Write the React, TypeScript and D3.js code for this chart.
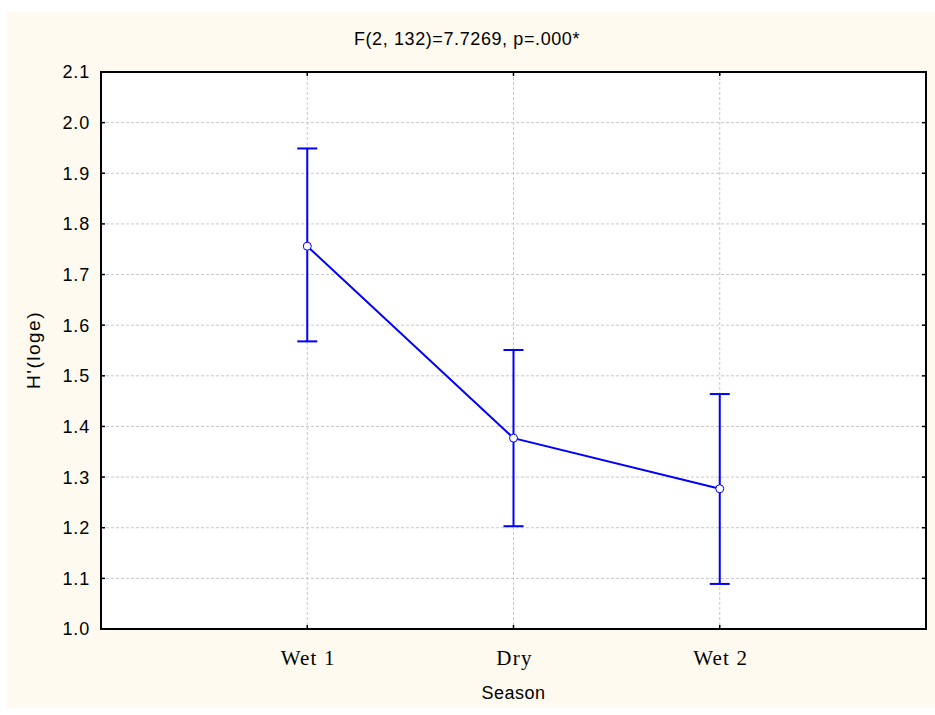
import React from "react";
import * as d3 from "d3";

const categories = ["Wet 1", "Dry", "Wet 2"];
const means = [1.756, 1.377, 1.277];
const upper = [1.949, 1.551, 1.464];
const lower = [1.568, 1.203, 1.089];
const yTicks = [1.0, 1.1, 1.2, 1.3, 1.4, 1.5, 1.6, 1.7, 1.8, 1.9, 2.0, 2.1];
const title = "F(2, 132)=7.7269, p=.000*";
const xLabel = "Season";
const yLabel = "H'(loge)";

export default function App() {
  const W = 935, H = 715;
  const left = 101, right = 926, top = 72, bottom = 629;
  const x = d3.scaleLinear().domain([0, categories.length + 1]).range([left, right]);
  const y = d3.scaleLinear().domain([1.0, 2.1]).range([bottom, top]);
  const line = d3.line<number>().x((_, i) => x(i + 1)).y((d) => y(d));
  const blue = "#0000FF";
  const sans = "Liberation Sans, Arial, sans-serif";
  return (
    <svg width={W} height={H} style={{ position: "absolute", left: 0, top: 0 }}>
      <rect x={7} y={12} width={928} height={696} fill="#FFFAF0" />
      <rect x={left} y={top} width={right - left} height={bottom - top} fill="#FFFFFF" />
      {yTicks.slice(1, -1).map((t) => (
        <line key={"gy" + t} x1={left} x2={right} y1={y(t)} y2={y(t)} stroke="#C8C8C8" strokeWidth={1} strokeDasharray="3,2" />
      ))}
      {categories.map((c, i) => (
        <line key={"gx" + c} x1={x(i + 1)} x2={x(i + 1)} y1={top} y2={bottom} stroke="#C8C8C8" strokeWidth={1} strokeDasharray="3,2" />
      ))}
      {yTicks.map((t) => (
        <g key={"t" + t}>
          <line x1={left} x2={left + 4} y1={y(t)} y2={y(t)} stroke="#000" strokeWidth={1.5} />
          <line x1={right - 4} x2={right} y1={y(t)} y2={y(t)} stroke="#000" strokeWidth={1.5} />
          <text x={90} y={y(t)} dy="0.36em" textAnchor="end" fontFamily={sans} fontSize={18} letterSpacing={0.8} fill="#000">
            {t.toFixed(1)}
          </text>
        </g>
      ))}
      {categories.map((c, i) => (
        <g key={"xl" + c}>
          <line x1={x(i + 1)} x2={x(i + 1)} y1={bottom} y2={bottom - 4} stroke="#000" strokeWidth={1.5} />
          <line x1={x(i + 1)} x2={x(i + 1)} y1={top} y2={top + 4} stroke="#000" strokeWidth={1.5} />
          <text x={x(i + 1) + 1} y={665} textAnchor="middle" fontFamily="Liberation Serif, Times New Roman, serif" fontSize={21} letterSpacing={1.2} fill="#000">
            {c}
          </text>
        </g>
      ))}
      <rect x={left} y={top} width={right - left} height={bottom - top} fill="none" stroke="#000" strokeWidth={2} />
      {categories.map((c, i) => {
        const cx = x(i + 1);
        return (
          <g key={"eb" + c}>
            <line x1={cx} x2={cx} y1={y(lower[i])} y2={y(upper[i])} stroke={blue} strokeWidth={2} />
            <line x1={cx - 10} x2={cx + 10} y1={y(upper[i])} y2={y(upper[i])} stroke={blue} strokeWidth={2} />
            <line x1={cx - 10} x2={cx + 10} y1={y(lower[i])} y2={y(lower[i])} stroke={blue} strokeWidth={2} />
          </g>
        );
      })}
      <path d={line(means) || ""} fill="none" stroke={blue} strokeWidth={2} />
      {means.map((m, i) => (
        <circle key={"pt" + i} cx={x(i + 1)} cy={y(m)} r={4} fill="#FFFFFF" stroke={blue} strokeWidth={1} />
      ))}
      <text x={467} y={45} textAnchor="middle" fontFamily={sans} fontSize={18} letterSpacing={0.6} fill="#000">
        {title}
      </text>
      <text x={(left + right) / 2} y={699} textAnchor="middle" fontFamily={sans} fontSize={18} letterSpacing={0.5} fill="#000">
        {xLabel}
      </text>
      <text transform={`translate(40, 350) rotate(-90)`} textAnchor="middle" fontFamily={sans} fontSize={19} letterSpacing={1.5} fill="#000">
        {yLabel}
      </text>
    </svg>
  );
}
